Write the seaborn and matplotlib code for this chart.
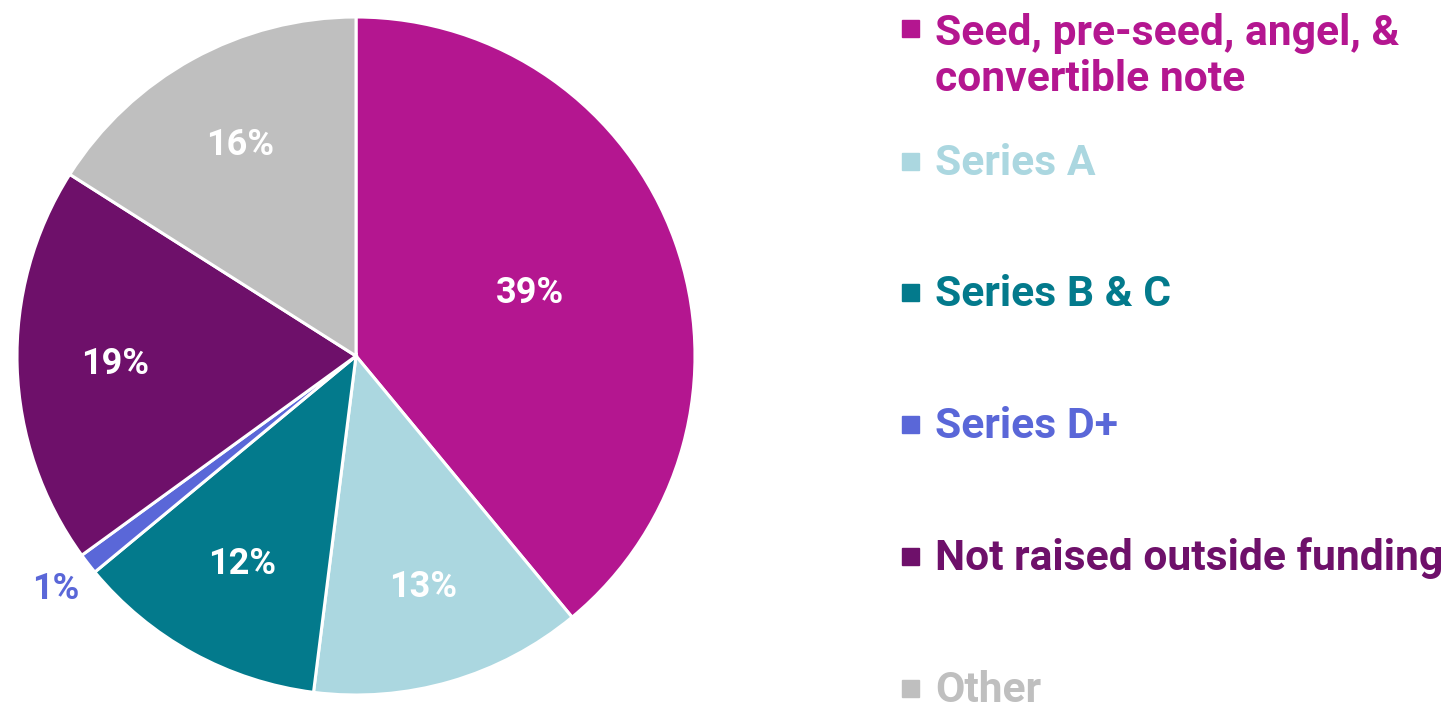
import matplotlib
matplotlib.use("Agg")
import matplotlib.pyplot as plt
import seaborn as sns
import numpy as np
from matplotlib.patches import Rectangle

categories = ["Seed, pre-seed, angel, &\nconvertible note", "Series A", "Series B & C",
              "Series D+", "Not raised outside funding", "Other"]
values = [39, 13, 12, 1, 19, 16]
pct_labels = ["39%", "13%", "12%", "1%", "19%", "16%"]
colors = ["#B41690", "#ABD7E0", "#037A8C", "#5A67D8", "#6E106A", "#BFBFBF"]

sns.set_theme(style="white")
plt.rcParams['font.family'] = ['Roboto', 'DejaVu Sans']

W, H = 1450, 705
fig = plt.figure(figsize=(W / 100, H / 100), dpi=100)
cx, cy, R = 356, 356, 339
ax = fig.add_axes([(cx - R) / W, (H - cy - R) / H, 2 * R / W, 2 * R / H])
wedges, _ = ax.pie(values, colors=colors, startangle=90, counterclock=False,
                   wedgeprops=dict(edgecolor="white", linewidth=2.2))
ax.set_xlim(-1, 1)
ax.set_ylim(-1, 1)
ax.set_aspect("equal")
ax.axis("off")

label_dist = [0.545, 0.71, 0.70, 1.12, 0.71, 0.71]
for w, lab, d, col in zip(wedges, pct_labels, label_dist, colors):
    ang = np.deg2rad((w.theta1 + w.theta2) / 2)
    tc = "white" if d < 1 else col
    ax.text(d * np.cos(ang), d * np.sin(ang), lab, ha="center", va="center",
            fontsize=26, fontweight="bold", color=tc)

# legend
first_baselines = [42, 175, 306, 438, 570, 702]
line_step = 49
for cat, col, b in zip(categories, colors, first_baselines):
    nlines = cat.count("\n") + 1
    b_last = b + line_step * (nlines - 1)
    fig.text(935 / W, 1 - b_last / H, cat, ha="left", va="baseline", fontsize=30.7,
             fontweight="bold", color=col, linespacing=1.15)
    fig.patches.append(Rectangle((902 / W, 1 - (b - 5) / H), 17 / W, 17 / H,
                                 transform=fig.transFigure, color=col, figure=fig))

fig.savefig("out.png", dpi=100, facecolor="white")
